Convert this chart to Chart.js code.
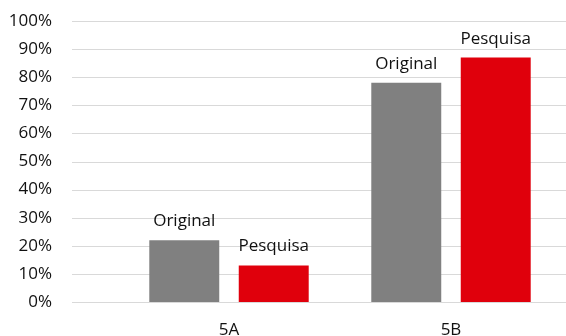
<!DOCTYPE html>
<html>
<head>
<meta charset="utf-8">
<script src="https://cdn.jsdelivr.net/npm/chart.js@4.4.0/dist/chart.umd.min.js"></script>
<style>
  html, body { margin: 0; padding: 0; background: #fff; overflow: hidden; }
  canvas { display: block; }
</style>
</head>
<body>
<canvas id="chart" width="566" height="336"></canvas>
<script>
const categories = ["5A", "5B"];
const seriesNames = ["Original", "Pesquisa"];
const originalValues = [22, 78];
const pesquisaValues = [13, 87];
const yTicks = [0, 10, 20, 30, 40, 50, 60, 70, 80, 90, 100];

const FONT = "'Open Sans', 'Noto Sans', sans-serif";
const FONT_SIZE = 17;
const TEXT = "#111111";

// horizontal grid lines, run out past the plot area to the left edge of the axis block
const wideGrid = {
    id: "wideGrid",
    beforeDatasetsDraw(chart) {
        const { ctx, scales: { y } } = chart;
        ctx.save();
        ctx.strokeStyle = "#d9d9d9";
        ctx.lineWidth = 1;
        yTicks.forEach(v => {
            const py = Math.round(y.getPixelForValue(v)) + 0.5;
            ctx.beginPath();
            ctx.moveTo(72, py);
            ctx.lineTo(chart.width, py);
            ctx.stroke();
        });
        ctx.restore();
    },
};

// series name written above each bar
const seriesLabels = {
    id: "seriesLabels",
    afterDatasetsDraw(chart) {
        const { ctx } = chart;
        ctx.save();
        ctx.font = `${FONT_SIZE}px ${FONT}`;
        ctx.fillStyle = TEXT;
        ctx.textAlign = "center";
        ctx.textBaseline = "alphabetic";
        chart.data.datasets.forEach((ds, i) => {
            chart.getDatasetMeta(i).data.forEach(bar => {
                ctx.fillText(ds.label, bar.x, bar.y - 14);
            });
        });
        ctx.restore();
    },
};

const chart = new Chart(document.getElementById("chart"), {
    type: "bar",
    data: {
        labels: categories,
        datasets: [
            { label: seriesNames[0], data: originalValues, backgroundColor: "#808080" },
            { label: seriesNames[1], data: pesquisaValues, backgroundColor: "#e0000c" },
        ],
    },
    options: {
        responsive: false,
        animation: false,
        devicePixelRatio: 1,
        layout: { padding: { top: 21, right: 4, left: 0, bottom: 0 } },
        datasets: {
            bar: { categoryPercentage: 0.806, barPercentage: 0.782 },
        },
        plugins: {
            legend: { display: false },
            tooltip: { enabled: false },
        },
        scales: {
            x: {
                grid: { display: false, drawTicks: false },
                border: { display: false },
                ticks: { color: TEXT, font: { family: FONT, size: FONT_SIZE }, padding: 18 },
                afterFit: scale => {
                    scale.height = 34;
                    scale.paddingLeft = 0;
                    scale.paddingRight = 0;
                },
            },
            y: {
                min: 0,
                max: 100,
                grid: { display: false, drawTicks: false },
                border: { display: false },
                ticks: {
                    stepSize: 10,
                    padding: 66,
                    color: TEXT,
                    font: { family: FONT, size: FONT_SIZE },
                    callback: v => v + "%",
                },
                afterFit: scale => {
                    scale.width = 118;
                    scale.paddingTop = 0;
                    scale.paddingBottom = 0;
                },
            },
        },
    },
    plugins: [wideGrid, seriesLabels],
});
</script>
</body>
</html>
